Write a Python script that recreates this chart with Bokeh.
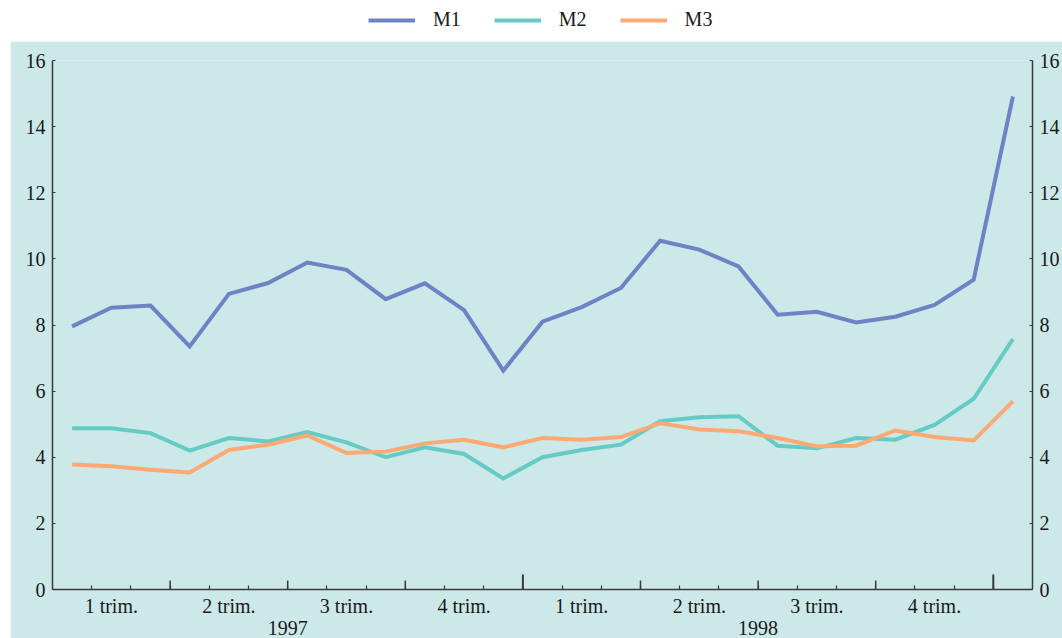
from bokeh.plotting import figure
from bokeh.models import (ColumnDataSource, LinearAxis, FixedTicker, Range1d,
                          Legend, LegendItem)
from bokeh.layouts import column
from bokeh.embed import file_html
from bokeh.resources import INLINE

# ---------------- data (monthly, Jan 1997 .. Jan 1999) ----------------
months = list(range(25))
M1 = [7.96, 8.52, 8.59, 7.35, 8.94, 9.27, 9.89, 9.67, 8.78, 9.26, 8.45, 6.62,
      8.10, 8.54, 9.12, 10.55, 10.28, 9.77, 8.31, 8.40, 8.08, 8.25, 8.61, 9.37,
      14.91]
M2 = [4.88, 4.88, 4.73, 4.20, 4.58, 4.48, 4.76, 4.45, 4.00, 4.30, 4.10, 3.36,
      4.00, 4.22, 4.38, 5.09, 5.21, 5.24, 4.35, 4.27, 4.58, 4.53, 4.98, 5.77,
      7.57]
M3 = [3.78, 3.73, 3.62, 3.54, 4.22, 4.38, 4.66, 4.13, 4.17, 4.42, 4.53, 4.30,
      4.58, 4.53, 4.61, 5.03, 4.84, 4.79, 4.58, 4.33, 4.35, 4.81, 4.61, 4.51,
      5.69]
series_names = ["M1", "M2", "M3"]
quarter_labels = ["1 trim.", "2 trim.", "3 trim.", "4 trim."]
years = ["1997", "1998"]
y_ticks = [0, 2, 4, 6, 8, 10, 12, 14, 16]

# ---------------- styling ----------------
colors = ["#6f83c4", "#66cbc4", "#fca974"]
FONT = "Liberation Serif"
BG = "#cce8e8"
AX = "#3a3a3a"
TXT = "#1a1a1a"
FS = "20px"
W_PAGE = 1062
LEG_H = 41
LEFT_PAD = 10
W_MAIN = W_PAGE - LEFT_PAD
H_MAIN = 638 - LEG_H
B_TOP, B_BOTTOM = 19, 49
FRAME_H = H_MAIN - B_TOP - B_BOTTOM
PX_PER_UNIT = FRAME_H / 16.0

x = [m + 0.5 for m in months]
src = ColumnDataSource(dict(x=x, M1=M1, M2=M2, M3=M3))

p = figure(width=W_MAIN, height=H_MAIN, x_range=Range1d(0, len(months)),
           y_range=Range1d(0, 16), toolbar_location=None, output_backend="svg",
           x_axis_location=None, y_axis_location=None,
           min_border_left=42, min_border_right=28, min_border_top=B_TOP,
           min_border_bottom=B_BOTTOM, background_fill_color=BG,
           border_fill_color=BG, outline_line_color=None,
           margin=(0, 0, 0, LEFT_PAD))
p.grid.visible = False

# y axes (left and right)
for loc in ("left", "right"):
    ax = LinearAxis(ticker=FixedTicker(ticks=y_ticks, minor_ticks=[]),
                    axis_line_color=AX, axis_line_width=1.5,
                    major_tick_line_color=AX, major_tick_line_width=1.2,
                    major_tick_in=3, major_tick_out=0,
                    minor_tick_in=0, minor_tick_out=0,
                    major_label_text_font=FONT, major_label_text_font_size=FS,
                    major_label_text_color=TXT, major_label_standoff=7)
    p.add_layout(ax, loc)

# bottom axis: month minor ticks + quarter labels
n_q = len(months) // 3
q_centers = [3 * i + 1.5 for i in range(n_q)]
q_over = {c: quarter_labels[i % 4] for i, c in enumerate(q_centers)}
xa = LinearAxis(ticker=FixedTicker(ticks=q_centers,
                                   minor_ticks=list(range(1, len(months)))),
                major_label_overrides=q_over,
                axis_line_color=AX, axis_line_width=1.5,
                major_tick_in=0, major_tick_out=0,
                minor_tick_in=4, minor_tick_out=0,
                minor_tick_line_color=AX, minor_tick_line_width=1.2,
                major_label_text_font=FONT, major_label_text_font_size=FS,
                major_label_text_color=TXT, major_label_standoff=5)
p.add_layout(xa, "below")

# second bottom axis: year labels
y_centers = [12 * i + 6 for i in range(len(years))]
ya = LinearAxis(ticker=FixedTicker(ticks=y_centers, minor_ticks=[]),
                major_label_overrides={c: years[i] for i, c in enumerate(y_centers)},
                axis_line_color=None, major_tick_line_color=None,
                minor_tick_line_color=None,
                major_tick_in=0, major_tick_out=0,
                major_label_text_font=FONT, major_label_text_font_size=FS,
                major_label_text_color=TXT, major_label_standoff=1)
p.add_layout(ya, "below")

# quarter and year boundary ticks
qb = [m for m in range(3, len(months), 3) if m % 12 != 0]
yb = [m for m in range(12, len(months), 12)]
p.segment(x0=qb, y0=[0] * len(qb), x1=qb, y1=[9 / PX_PER_UNIT] * len(qb),
          line_color=AX, line_width=1.5)
p.segment(x0=yb, y0=[0] * len(yb), x1=yb, y1=[15 / PX_PER_UNIT] * len(yb),
          line_color=AX, line_width=2)

for name, col in zip(series_names, colors):
    p.line("x", name, source=src, line_color=col, line_width=4,
           line_join="miter")

# ---------------- legend strip ----------------
lf = figure(width=W_PAGE, height=LEG_H, toolbar_location=None,
            output_backend="svg", x_range=Range1d(0, 1), y_range=Range1d(0, 1),
            x_axis_location=None, y_axis_location=None, min_border=0,
            outline_line_color=None, background_fill_color="white",
            border_fill_color="white")
lf.grid.visible = False
items = []
for name, col in zip(series_names, colors):
    # sample lines kept outside the visible range; only the legend shows them
    r = lf.line(x=[5, 6], y=[5, 5], line_color=col, line_width=4)
    items.append(LegendItem(label=name, renderers=[r]))
leg = Legend(items=items, orientation="horizontal", location=(326, 10),
             padding=0, margin=0, spacing=33, glyph_width=47, glyph_height=20,
             label_standoff=18, label_text_font=FONT, label_text_font_size=FS,
             label_text_color=TXT, border_line_color=None,
             background_fill_alpha=0)
lf.add_layout(leg)

layout = column(lf, p, spacing=0)
open("out.html", "w").write(file_html(layout, INLINE))
